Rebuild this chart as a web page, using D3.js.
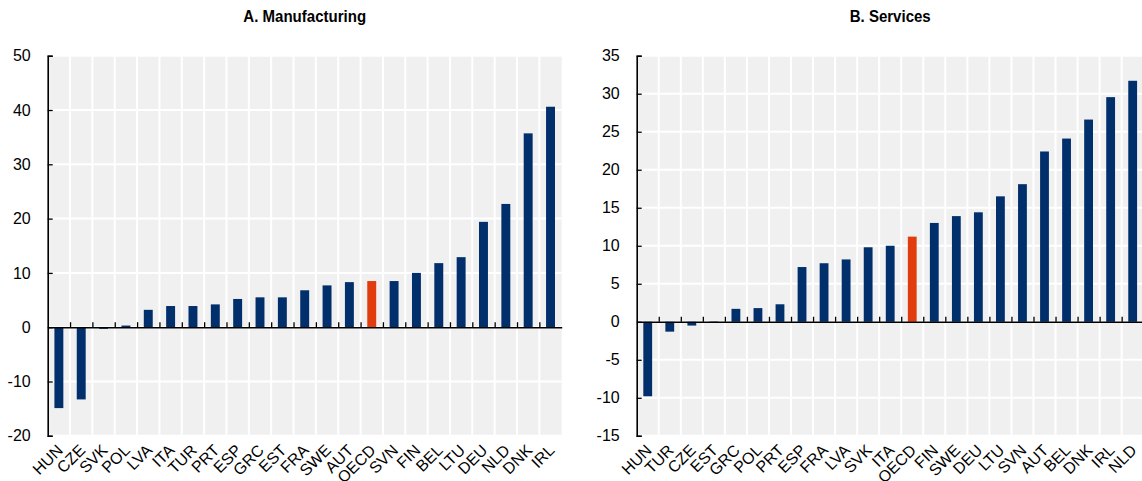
<!DOCTYPE html>
<html><head><meta charset="utf-8">
<script src="https://cdn.jsdelivr.net/npm/d3@7"></script>
<style>
body{margin:0;background:#fff;}
svg{display:block;}
text{font-family:"Liberation Sans",Arial,sans-serif;fill:#000;}
</style></head>
<body>
<svg id="c" width="1142" height="481"></svg>
<script>
const manufCategories = ["HUN","CZE","SVK","POL","LVA","ITA","TUR","PRT","ESP","GRC","EST","FRA","SWE","AUT","OECD","SVN","FIN","BEL","LTU","DEU","NLD","DNK","IRL"];
const manufValues = [-14.9,-13.3,-0.3,0.3,3.2,3.9,3.9,4.2,5.2,5.5,5.5,6.8,7.7,8.3,8.5,8.5,10.0,11.8,12.9,19.4,22.7,35.7,40.6];
const manufTicks = [-20,-10,0,10,20,30,40,50];

const servCategories = ["HUN","TUR","CZE","EST","GRC","POL","PRT","ESP","FRA","LVA","SVK","ITA","OECD","FIN","SWE","DEU","LTU","SVN","AUT","BEL","DNK","IRL","NLD"];
const servValues = [-9.8,-1.3,-0.5,0.05,1.7,1.8,2.3,7.2,7.7,8.2,9.8,10.0,11.2,13.0,13.9,14.4,16.5,18.1,22.4,24.1,26.6,29.55,31.7];
const servTicks = [-15,-10,-5,0,5,10,15,20,25,30,35];

const titles = ["A. Manufacturing","B. Services"];

const svg = d3.select("#c");
const BLUE = "#002F6C", RED = "#E03C0E", BG = "#F0F0F0";

function panel(cfg){
  const {x0,x1,y0,y1,cats,vals,ticks,title} = cfg;
  const g = svg.append("g");
  const x = d3.scaleBand().domain(cats).range([x0,x1]).paddingInner(0).paddingOuter(0);
  const y = d3.scaleLinear().domain([ticks[0],ticks[ticks.length-1]]).range([y1,y0]);
  g.append("rect").attr("x",x0).attr("y",y0).attr("width",x1-x0).attr("height",y1-y0).attr("fill",BG);
  g.selectAll(".hg").data(ticks).enter().append("line")
    .attr("x1",x0).attr("x2",x1).attr("y1",d=>y(d)).attr("y2",d=>y(d))
    .attr("stroke","#fff").attr("stroke-width",2);
  const bounds = cats.slice(1).map(c=>x(c));
  g.selectAll(".vg").data(bounds).enter().append("line")
    .attr("x1",d=>d).attr("x2",d=>d).attr("y1",y0).attr("y2",y1)
    .attr("stroke","#fff").attr("stroke-width",2);
  const bw = x.bandwidth()*0.4;
  g.selectAll(".bar").data(cats).enter().append("rect")
    .attr("x",(d)=>x(d)+x.bandwidth()/2-bw/2)
    .attr("width",bw)
    .attr("y",(d,i)=>y(Math.max(0,vals[i])))
    .attr("height",(d,i)=>Math.abs(y(vals[i])-y(0)))
    .attr("fill",d=>d==="OECD"?RED:BLUE);
  const xAxis = d3.axisBottom(d3.scaleLinear().domain([x0,x1]).range([x0,x1]))
    .tickValues(bounds).tickSizeInner(-5).tickSizeOuter(0).tickFormat("");
  const xa = g.append("g").attr("transform",`translate(0,${y(0)})`).call(xAxis);
  xa.select(".domain").attr("stroke","#000").attr("stroke-width",1.6);
  xa.selectAll(".tick line").attr("stroke","#000").attr("stroke-width",1.3);
  const yAxis = d3.axisLeft(y).tickValues(ticks).tickSizeInner(-5).tickSizeOuter(-5).tickPadding(17).tickFormat(d=>String(d));
  const ya = g.append("g").attr("transform",`translate(${x0},0)`).call(yAxis);
  ya.select(".domain").attr("stroke","#000").attr("stroke-width",1.6);
  ya.selectAll(".tick line").attr("stroke","#000").attr("stroke-width",1.3);
  ya.selectAll(".tick text").attr("font-size",16).attr("fill","#000").style("font-family",'"Liberation Sans",Arial,sans-serif');
  g.selectAll(".xl").data(cats).enter().append("text")
    .attr("transform",d=>`translate(${x(d)+x.bandwidth()/2+5},${y1+15.5}) rotate(-45)`)
    .attr("text-anchor","end").attr("font-size",16).text(d=>d);
  g.append("text").attr("transform",`translate(${(x0+x1)/2},22) scale(0.94,1)`).attr("text-anchor","middle")
    .attr("font-size",16).attr("font-weight","bold").text(title);
}

panel({x0:47.7,x1:561.7,y0:55.7,y1:435.8,cats:manufCategories,vals:manufValues,ticks:manufTicks,title:titles[0]});
panel({x0:636.7,x1:1143.7,y0:55.7,y1:435.8,cats:servCategories,vals:servValues,ticks:servTicks,title:titles[1]});
</script>
</body></html>
